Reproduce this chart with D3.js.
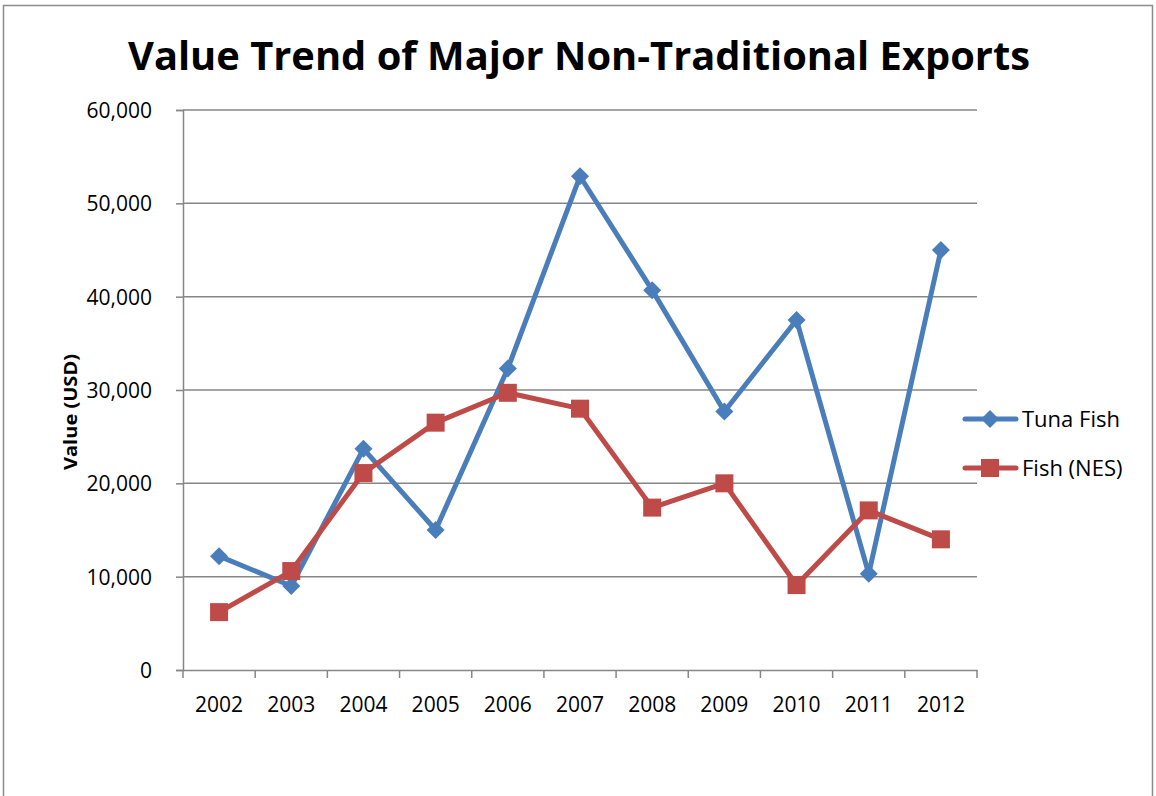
<!DOCTYPE html>
<html>
<head>
<meta charset="utf-8">
<script src="https://cdn.jsdelivr.net/npm/d3@7"></script>
<style>
  body { margin: 0; background: #fff; }
  svg { display: block; }
  text { font-family: "Open Sans", sans-serif; }
</style>
</head>
<body>
<div id="chart"></div>
<script>
// data
const years = ['2002', '2003', '2004', '2005', '2006', '2007', '2008', '2009', '2010', '2011', '2012'];
const tunaFish = [12200, 9000, 23700, 15000, 32300, 52900, 40700, 27700, 37500, 10300, 45000];
const fishNes = [6200, 10600, 21100, 26500, 29700, 28000, 17400, 20000, 9100, 17100, 14000];
const yTicks = [0, 10000, 20000, 30000, 40000, 50000, 60000];

const series = [
  { name: 'Tuna Fish', values: tunaFish, color: '#4A7EBB', shape: 'diamond' },
  { name: 'Fish (NES)', values: fishNes, color: '#BE4B48', shape: 'square' }
];

const W = 1156, H = 796;
const plot = { left: 183, right: 977, top: 110, bottom: 670 };
const labelFont = '"Open Sans", sans-serif';

const svg = d3.select('#chart').append('svg')
  .attr('width', W)
  .attr('height', H);

// chart frame
svg.append('rect')
  .attr('x', 3.5).attr('y', 5.5)
  .attr('width', 1149).attr('height', 800)
  .attr('fill', 'none')
  .attr('stroke', '#8c8c8c')
  .attr('stroke-width', 1.5);

// scales
const x = d3.scaleBand().domain(years).range([plot.left, plot.right]).padding(0);
const y = d3.scaleLinear().domain([0, 60000]).range([plot.bottom, plot.top]);

// gridlines
svg.append('g')
  .selectAll('line')
  .data(yTicks.filter(d => d > 0))
  .enter()
  .append('line')
  .attr('x1', plot.left)
  .attr('x2', plot.right)
  .attr('y1', d => y(d))
  .attr('y2', d => y(d))
  .attr('stroke', '#868686')
  .attr('stroke-width', 1.5);

// y axis
const yAxis = svg.append('g')
  .attr('transform', `translate(${plot.left},0)`)
  .call(d3.axisLeft(y).tickValues(yTicks).tickSize(7).tickPadding(24)
    .tickFormat(d3.format(',')));
yAxis.select('.domain').attr('stroke', '#868686').attr('stroke-width', 1.5);
yAxis.selectAll('.tick line').attr('stroke', '#868686').attr('stroke-width', 1.5);
yAxis.selectAll('.tick text')
  .attr('fill', '#000')
  .attr('dy', '0.36em')
  .style('font-size', '21px')
  .style('font-family', labelFont);

// x axis, ticks on category boundaries
const xAxis = svg.append('g')
  .attr('transform', `translate(0,${plot.bottom})`)
  .call(d3.axisBottom(x).tickSize(0).tickPadding(0));
xAxis.select('.domain').attr('stroke', '#868686').attr('stroke-width', 1.5);
xAxis.selectAll('.tick text')
  .attr('fill', '#000')
  .attr('dy', 0)
  .attr('y', 42)
  .style('font-size', '21px')
  .style('font-family', labelFont);
xAxis.selectAll('.boundary')
  .data(years.concat(['end']))
  .enter()
  .append('line')
  .attr('class', 'boundary')
  .attr('x1', (d, i) => i < years.length ? x(d) : x(years[years.length - 1]) + x.bandwidth())
  .attr('x2', (d, i) => i < years.length ? x(d) : x(years[years.length - 1]) + x.bandwidth())
  .attr('y1', 0)
  .attr('y2', 8)
  .attr('stroke', '#868686')
  .attr('stroke-width', 1.5);

// title
svg.append('text')
  .attr('x', 579)
  .attr('y', 70)
  .attr('text-anchor', 'middle')
  .attr('textLength', 902)
  .attr('lengthAdjust', 'spacingAndGlyphs')
  .style('font-size', '40px')
  .style('font-weight', 'bold')
  .text('Value Trend of Major Non-Traditional Exports');

// y axis title
svg.append('text')
  .attr('transform', 'translate(77,412) rotate(-90)')
  .attr('text-anchor', 'middle')
  .attr('textLength', 116)
  .attr('lengthAdjust', 'spacingAndGlyphs')
  .style('font-size', '18px')
  .style('font-weight', 'bold')
  .text('Value (USD)');

const line = d3.line()
  .x((d, i) => x(years[i]) + x.bandwidth() / 2)
  .y(d => y(d));

function marker(g, shape, color, cx, cy) {
  if (shape === 'diamond') {
    g.append('path')
      .attr('d', `M${cx},${cy - 9}L${cx + 9},${cy}L${cx},${cy + 9}L${cx - 9},${cy}Z`)
      .attr('fill', color);
  } else {
    g.append('rect')
      .attr('x', cx - 9).attr('y', cy - 9)
      .attr('width', 18).attr('height', 18)
      .attr('fill', color);
  }
}

// lines and markers
series.forEach(s => {
  const g = svg.append('g');
  g.append('path')
    .datum(s.values)
    .attr('d', line)
    .attr('fill', 'none')
    .attr('stroke', s.color)
    .attr('stroke-width', 5)
    .attr('stroke-linejoin', 'round');
  s.values.forEach((v, i) => {
    marker(g, s.shape, s.color, x(years[i]) + x.bandwidth() / 2, y(v));
  });
});

// legend
const legend = svg.append('g');
series.forEach((s, i) => {
  const ly = 419 + i * 49;
  legend.append('line')
    .attr('x1', 965).attr('x2', 1016)
    .attr('y1', ly).attr('y2', ly)
    .attr('stroke', s.color)
    .attr('stroke-width', 5)
    .attr('stroke-linecap', 'round');
  marker(legend, s.shape, s.color, 990, ly);
  legend.append('text')
    .attr('x', 1022)
    .attr('y', ly + 8)
    .style('font-size', '22px')
    .text(s.name);
});
</script>
</body>
</html>
